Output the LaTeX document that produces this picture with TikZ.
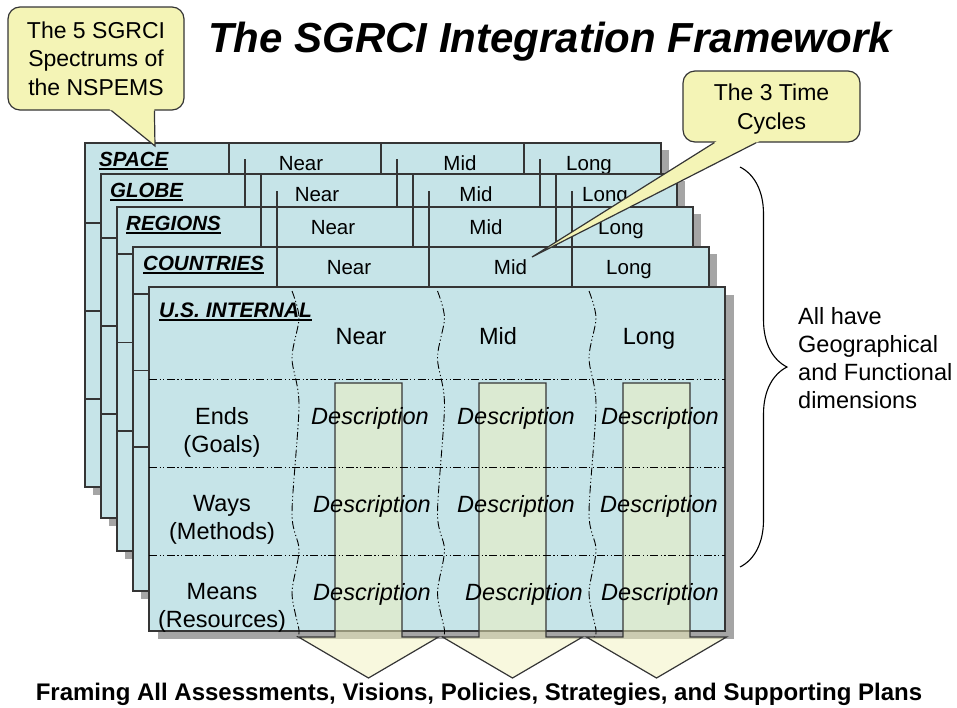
\documentclass[tikz,border=0pt]{standalone}
\usepackage{fontspec}
\setmainfont{Liberation Sans}
\usepackage{tikz}
\usetikzlibrary{calc,decorations.pathreplacing}
\definecolor{FrameBlue}{HTML}{C6E4E8}
\definecolor{FrameEdge}{HTML}{353535}
\definecolor{FrameShadow}{HTML}{A5A5A5}
\definecolor{NoteYellow}{HTML}{F4F4B6}
\definecolor{ArrowYellow}{HTML}{F1F1BD}
% thick underline for the card tags
\newcommand{\thickul}[1]{\setbox0\hbox{#1}\rlap{\rule[-4.4pt]{\wd0}{2.1pt}}\box0}

\tikzset{
  card/.style={fill=FrameBlue,draw=FrameEdge,line width=1.3pt},
  cardshade/.style={fill=FrameShadow},
  cardline/.style={draw=FrameEdge,line width=1.2pt},
  tagtext/.style={font=\fontsize{20.5}{24}\selectfont\bfseries\itshape,anchor=base west,inner sep=0pt},
  hdr/.style={font=\fontsize{20.5}{24}\selectfont,anchor=base,inner sep=0pt},
  cell/.style={font=\fontsize{23.5}{28}\selectfont,anchor=base,inner sep=0pt,align=center},
  descr/.style={cell,font=\fontsize{23.5}{28}\selectfont\itshape},
  divider/.style={line width=0.9pt,dash pattern=on 8pt off 2.5pt on 1.2pt off 2.5pt on 1.2pt off 2.5pt},
  blockarrow/.style={draw=FrameEdge,line width=1.2pt,fill=ArrowYellow,fill opacity=0.5},
  note/.style={draw=FrameEdge,fill=NoteYellow,line width=1.2pt,rounded corners=12pt,
    align=center,inner sep=0pt,font=\fontsize{23}{28.5}\selectfont},
  notetail/.style={draw=FrameEdge,line width=1.2pt},
  spanbrace/.style={decorate,decoration={brace,amplitude=47pt},line width=1.1pt},
}

\begin{document}
\begin{tikzpicture}[x=1pt,y=-1pt]
  \useasboundingbox (0,0) rectangle (957,707);

  % spectrum cards stacked back to front
  \foreach \idx/\ty/\by/\ny/\lbl/\tx/\mx/\lx/\ra/\rs in {
      0/143/487/174/SPACE/99/460/589/223/88,
      1/174/518/207/GLOBE/110/476/605/238/88,
      2/207/551/247/REGIONS/126/486/621/254/88.5,
      3/247/591/286/COUNTRIES/143/510.5/629/294/76.5} {
    \fill[cardshade] (93+16*\idx,\ty+7) rectangle (669+16*\idx,\by+8);
    \draw[card] (85+16*\idx,\ty) rectangle (661+16*\idx,\by);
    \foreach \j in {0,1,2}
      \draw[cardline] (85+16*\idx,\ra+\j*\rs) -- (661+16*\idx,\ra+\j*\rs);
    \foreach \x in {229,381,524}
      \draw[cardline] (\x+16*\idx,143+16*\idx) -- (\x+16*\idx,\ny);
    \node[tagtext] (tag\idx) at (\tx,\ty+23) {\thickul{\lbl}};
    \node[hdr] (near\idx) at (301+16*\idx,\ty+27) {Near};
    \node[hdr] (mid\idx) at (\mx,\ty+27) {Mid};
    \node[hdr] (long\idx) at (\lx,\ty+27) {Long};
  }

  % front card
  \fill[cardshade] (158,295) rectangle (734,639);
  \draw[card] (149,287) rectangle (725,631);
  \foreach \dx in {0,145.5,297}
    \draw[divider,shift={(\dx,0)}] plot[smooth] coordinates
      {(292,291) (299,318) (292,358) (299,405) (292,513) (299,550) (292,593) (299,630) (297,637)};
  \foreach \sx in {335,479,623}
    \filldraw[blockarrow] (\sx,383) -- ++(67,0) -- ++(0,254) -- ++(36.5,0)
      -- ++(-70,41) -- ++(-70,-41) -- ++(36.5,0) -- cycle;
  \foreach \y in {379,467,555}
    \draw[divider] (149,\y) -- (725,\y);

  \node[tagtext,font=\fontsize{21}{25}\selectfont\bfseries\itshape] (tagUS) at (159,317) {\thickul{U.S. INTERNAL}};
  \foreach \x/\t in {361/Near,498/Mid,649/Long}
    \node[cell] (cycle\t) at (\x,344) {\t};
  \node[cell,anchor=north] (ends) at (222,407) {Ends\\(Goals)};
  \node[cell,anchor=north] (ways) at (222,495) {Ways\\(Methods)};
  \node[cell,anchor=north] (means) at (222,583) {Means\\(Resources)};
  \foreach \x/\y [count=\i] in {370/424,516/424,660/424,372/512,516/512,659/512,372/600,524/600,660/600}
    \node[descr] (desc\i) at (\x,\y) {Description};

  % call-outs
  \node[note,minimum width=176pt,minimum height=103pt] (spectra) at (96,58.5)
    {The 5 SGRCI\\Spectrums of\\the NSPEMS};
  \coordinate (spectraTip) at (155,146);
  \coordinate (spectraL) at ($(spectra.south west)+(104,0)$);
  \coordinate (spectraR) at ($(spectra.south west)+(147,0)$);
  \fill[NoteYellow] ($(spectraL)!-0.08!(spectraTip)$) -- (spectraTip) -- ($(spectraR)!-0.08!(spectraTip)$) -- cycle;
  \draw[notetail] (spectraL) -- (spectraTip) -- (spectraR);

  \node[note,minimum width=177pt,minimum height=71pt,text depth=0pt] (cycles) at (771.5,106.5)
    {The 3 Time\\Cycles};
  \coordinate (cyclesTip) at (532,257);
  \coordinate (cyclesL) at ($(cycles.south west)+(32,0)$);
  \coordinate (cyclesR) at ($(cycles.south west)+(74,0)$);
  \fill[NoteYellow] ($(cyclesL)!-0.04!(cyclesTip)$) -- (cyclesTip) -- ($(cyclesR)!-0.04!(cyclesTip)$) -- cycle;
  \draw[notetail] (cyclesL) -- (cyclesTip) -- (cyclesR);

  % brace and its remark
  \coordinate (braceTop) at (740,167);
  \coordinate (braceEnd) at (740,567);
  \draw[spanbrace] (braceTop) -- (braceEnd);
  \node[cell,align=left,anchor=north west] (allhave) at (798,307)
    {All have\\Geographical\\and Functional\\dimensions};

  \node[font=\fontsize{42}{48}\selectfont\bfseries\itshape,anchor=base,inner sep=0pt] (heading)
    at (550,52) {The SGRCI Integration Framework};
  \node[font=\fontsize{24}{28}\selectfont\bfseries,anchor=base,inner sep=0pt] (framing)
    at (479,700) {Framing All Assessments, Visions, Policies, Strategies, and Supporting Plans};
\end{tikzpicture}
\end{document}
